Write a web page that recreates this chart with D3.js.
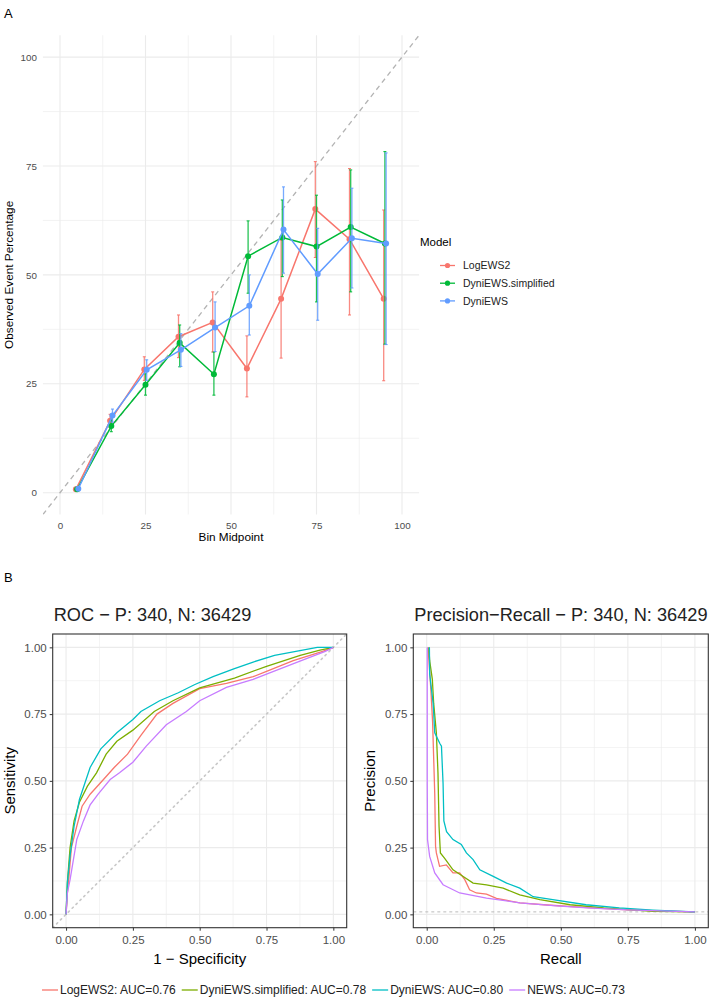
<!DOCTYPE html>
<html lang="en">
<head>
<meta charset="UTF-8" />
<script src="https://d3js.org/d3.v7.min.js"></script>
<title>Calibration and ROC / PR</title>
<style>
  body { margin: 0; background: #fff; }
  svg text { font-family: "Liberation Sans", Arial, sans-serif; }
</style>
</head>
<body>
<svg width="716" height="998"></svg>
<script>
// ---- panel A: calibration ----
const bins = [5, 15, 25, 35, 45, 55, 65, 75, 85, 95];
const calibModels = ["LogEWS2", "DyniEWS.simplified", "DyniEWS"];
const calibColors = ["#F8766D", "#00BA38", "#619CFF"];

const logEWS2Obs = [0.8, 16.5, 28.3, 35.8, 39.1, 28.5, 44.5, 65.1, 58.2, 44.5];
const logEWS2Lo  = [0.4, 15.0, 25.8, 31.0, 32.3, 22.0, 30.9, 54.0, 40.8, 25.7];
const logEWS2Hi  = [1.2, 18.0, 31.2, 40.8, 46.1, 36.0, 58.0, 76.0, 74.4, 64.9];

const simpObs = [0.8, 15.3, 24.8, 34.4, 27.2, 54.3, 58.6, 56.5, 61.0, 57.2];
const simpLo  = [0.4, 14.0, 22.4, 28.9, 22.4, 45.8, 49.6, 43.8, 46.1, 34.1];
const simpHi  = [1.2, 16.7, 27.3, 38.5, 32.3, 62.4, 67.2, 68.3, 74.1, 78.3];

const dyniObs = [0.9, 17.7, 28.2, 32.8, 37.9, 42.9, 60.4, 50.2, 58.4, 57.2];
const dyniLo  = [0.5, 16.2, 25.8, 29.0, 32.4, 36.2, 50.4, 39.6, 47.0, 34.0];
const dyniHi  = [1.3, 19.2, 30.5, 36.5, 43.8, 50.0, 70.2, 60.7, 69.9, 78.0];

const calibTicks = [0, 25, 50, 75, 100];

// ---- panel B: ROC and precision-recall ----
const curveModels = ["LogEWS2", "DyniEWS.simplified", "DyniEWS", "NEWS"];
const curveAUC = [0.76, 0.78, 0.80, 0.73];
const curveColors = ["#F8766D", "#7CAE00", "#00BFC4", "#C77CFF"];

// [1 - specificity, sensitivity]
const rocLogEWS2 = [[0,0],[0.005,0.08],[0.01,0.13],[0.02,0.25],[0.04,0.33],[0.06,0.405],[0.09,0.45],[0.14,0.505],
  [0.18,0.55],[0.23,0.6],[0.28,0.67],[0.34,0.75],[0.4,0.79],[0.5,0.845],[0.6,0.865],[0.7,0.89],[0.75,0.91],
  [0.85,0.95],[0.96,0.985],[1,1]];
const rocSimplified = [[0,0],[0.005,0.12],[0.015,0.25],[0.03,0.35],[0.05,0.42],[0.08,0.48],[0.114,0.53],[0.15,0.6],
  [0.19,0.648],[0.25,0.69],[0.33,0.76],[0.4,0.8],[0.5,0.848],[0.63,0.885],[0.75,0.929],[0.876,0.97],[0.95,0.99],[1,1]];
const rocDyniEWS = [[0,0],[0.005,0.12],[0.015,0.22],[0.03,0.33],[0.05,0.43],[0.07,0.49],[0.09,0.55],[0.13,0.62],
  [0.19,0.68],[0.25,0.73],[0.28,0.76],[0.35,0.8],[0.42,0.83],[0.48,0.86],[0.55,0.89],[0.63,0.92],[0.7,0.945],
  [0.78,0.97],[0.86,0.985],[0.94,1],[1,1]];
const rocNEWS = [[0,0],[0.005,0.08],[0.015,0.13],[0.04,0.28],[0.065,0.35],[0.09,0.41],[0.12,0.45],[0.165,0.505],
  [0.2,0.53],[0.25,0.57],[0.3,0.63],[0.375,0.71],[0.45,0.76],[0.5,0.8],[0.6,0.85],[0.7,0.88],[0.75,0.9],
  [0.88,0.95],[0.97,0.985],[1,1]];

// [recall, precision]
const prLogEWS2 = [[0.005,1],[0.015,0.85],[0.022,0.72],[0.03,0.45],[0.033,0.255],[0.036,0.23],[0.048,0.18],
  [0.073,0.185],[0.098,0.155],[0.123,0.155],[0.142,0.13],[0.16,0.092],[0.185,0.08],[0.223,0.076],[0.26,0.06],
  [0.347,0.043],[0.45,0.035],[0.6,0.025],[0.75,0.017],[0.9,0.012],[1,0.009]];
const prSimplified = [[0.008,1],[0.011,0.95],[0.021,0.88],[0.026,0.79],[0.036,0.68],[0.042,0.53],[0.046,0.33],
  [0.051,0.23],[0.067,0.21],[0.098,0.167],[0.136,0.142],[0.173,0.117],[0.223,0.11],[0.285,0.098],[0.347,0.073],
  [0.422,0.055],[0.535,0.036],[0.66,0.024],[0.843,0.011],[1,0.009]];
const prDyniEWS = [[0.01,1],[0.011,0.9],[0.024,0.79],[0.03,0.68],[0.049,0.64],[0.055,0.63],[0.061,0.49],
  [0.064,0.35],[0.074,0.31],[0.098,0.28],[0.129,0.262],[0.148,0.23],[0.173,0.205],[0.198,0.167],[0.248,0.142],
  [0.298,0.117],[0.347,0.098],[0.397,0.066],[0.47,0.055],[0.594,0.036],[0.718,0.024],[0.843,0.016],[1,0.009]];
const prNEWS = [[0.002,1],[0.002,0.5],[0.003,0.28],[0.011,0.217],[0.03,0.155],[0.061,0.111],[0.123,0.08],
  [0.223,0.061],[0.347,0.043],[0.496,0.031],[0.6,0.024],[0.75,0.017],[0.9,0.012],[1,0.009]];

const prBaseline = 340 / (340 + 36429);
const unitTicks = [0, 0.25, 0.5, 0.75, 1];

const svg = d3.select("svg");
const gridCol = "#ebebeb";
const tickTextCol = "#4d4d4d";

// ================= panel A =================
svg.append("text").attr("x", 4).attr("y", 18).attr("font-size", 13).text("A");

const ax = d3.scaleLinear().domain([-5, 105]).range([42.9, 419.1]);
const ay = d3.scaleLinear().domain([-5, 105]).range([514.5, 35.3]);
svg.append("clipPath").attr("id", "clipA")
  .append("rect").attr("x", 42.9).attr("y", 35.3).attr("width", 419.1 - 42.9).attr("height", 514.5 - 35.3);

const ga = svg.append("g");
const minorA = [12.5, 37.5, 62.5, 87.5];
ga.selectAll(".vminor").data(minorA).join("line")
  .attr("x1", d => ax(d)).attr("x2", d => ax(d)).attr("y1", ay(-5)).attr("y2", ay(105))
  .attr("stroke", gridCol).attr("stroke-width", 0.6);
ga.selectAll(".hminor").data(minorA).join("line")
  .attr("y1", d => ay(d)).attr("y2", d => ay(d)).attr("x1", ax(-5)).attr("x2", ax(105))
  .attr("stroke", gridCol).attr("stroke-width", 0.6);
ga.selectAll(".vmajor").data(calibTicks).join("line")
  .attr("x1", d => ax(d)).attr("x2", d => ax(d)).attr("y1", ay(-5)).attr("y2", ay(105))
  .attr("stroke", gridCol).attr("stroke-width", 1.1);
ga.selectAll(".hmajor").data(calibTicks).join("line")
  .attr("y1", d => ay(d)).attr("y2", d => ay(d)).attr("x1", ax(-5)).attr("x2", ax(105))
  .attr("stroke", gridCol).attr("stroke-width", 1.1);

// axes (text only, theme_minimal)
const axA = svg.append("g").attr("transform", `translate(0,${ay(-5)})`)
  .call(d3.axisBottom(ax).tickValues(calibTicks).tickSize(0).tickPadding(8));
const ayA = svg.append("g").attr("transform", `translate(${ax(-5)},0)`)
  .call(d3.axisLeft(ay).tickValues(calibTicks).tickSize(0).tickPadding(6));
[axA, ayA].forEach(g => {
  g.select(".domain").remove();
  g.selectAll("text").attr("font-size", 9.8).attr("fill", tickTextCol)
    .attr("font-family", "Liberation Sans, Arial, sans-serif");
});

svg.append("text").attr("x", (ax(-5) + ax(105)) / 2).attr("y", 541).attr("text-anchor", "middle")
  .attr("font-size", 11.8).text("Bin Midpoint");
svg.append("text").attr("transform", `translate(13,${(ay(-5) + ay(105)) / 2}) rotate(-90)`)
  .attr("text-anchor", "middle").attr("font-size", 11.8).text("Observed Event Percentage");

// identity line
const plotA = svg.append("g").attr("clip-path", "url(#clipA)");
plotA.append("line").attr("x1", ax(-5)).attr("y1", ay(-5)).attr("x2", ax(105)).attr("y2", ay(105))
  .attr("stroke", "#b3b3b3").attr("stroke-width", 1.3).attr("stroke-dasharray", "5,4");

const calibSeries = [
  { obs: logEWS2Obs, lo: logEWS2Lo, hi: logEWS2Hi },
  { obs: simpObs, lo: simpLo, hi: simpHi },
  { obs: dyniObs, lo: dyniLo, hi: dyniHi }
];
const dodge = [-0.35, 0, 0.35];

calibSeries.forEach((s, k) => {
  const pts = bins.map((b, i) => ({ x: b + dodge[k], y: s.obs[i], lo: s.lo[i], hi: s.hi[i] }));
  const g = plotA.append("g");
  g.selectAll("line.err").data(pts).join("line")
    .attr("x1", d => ax(d.x)).attr("x2", d => ax(d.x))
    .attr("y1", d => ay(d.lo)).attr("y2", d => ay(d.hi))
    .attr("stroke", calibColors[k]).attr("stroke-width", 1.3).attr("opacity", 0.85);
  g.selectAll("line.cap").data(pts.flatMap(d => [d.lo, d.hi].map(v => ({ x: d.x, v }))))
    .join("line")
    .attr("x1", d => ax(d.x) - 1.5).attr("x2", d => ax(d.x) + 1.5)
    .attr("y1", d => ay(d.v)).attr("y2", d => ay(d.v))
    .attr("stroke", calibColors[k]).attr("stroke-width", 1);
  g.append("path").datum(pts)
    .attr("d", d3.line().x(d => ax(d.x)).y(d => ay(d.y)))
    .attr("fill", "none").attr("stroke", calibColors[k]).attr("stroke-width", 1.5);
  g.selectAll("circle").data(pts).join("circle")
    .attr("cx", d => ax(d.x)).attr("cy", d => ay(d.y)).attr("r", 3)
    .attr("fill", calibColors[k]);
});

// legend A
const legA = svg.append("g").attr("transform", "translate(420,246)");
legA.append("text").attr("x", 0).attr("y", 0).attr("font-size", 11.5).text("Model");
calibModels.forEach((m, k) => {
  const y = 19.5 + k * 17.7;
  legA.append("line").attr("x1", 20).attr("x2", 35).attr("y1", y).attr("y2", y)
    .attr("stroke", calibColors[k]).attr("stroke-width", 1.3);
  legA.append("circle").attr("cx", 27.5).attr("cy", y).attr("r", 2.6).attr("fill", calibColors[k]);
  legA.append("text").attr("x", 43).attr("y", y + 3.7).attr("font-size", 10.5).attr("fill", "#222").text(m);
});

// ================= panel B =================
svg.append("text").attr("x", 4).attr("y", 582).attr("font-size", 13).text("B");

function drawPanel(left, right, xLab, yLab, title, curves, refLine) {
  const top = 634, bottom = 927.7;
  const x = d3.scaleLinear().domain([-0.05, 1.05]).range([left, right]);
  const y = d3.scaleLinear().domain([-0.05, 1.05]).range([bottom, top]);
  const id = "clip" + Math.round(left);
  svg.append("clipPath").attr("id", id).append("rect")
    .attr("x", left).attr("y", top).attr("width", right - left).attr("height", bottom - top);
  const g = svg.append("g");
  const minor = [0.125, 0.375, 0.625, 0.875];
  g.selectAll(".vmin").data(minor).join("line")
    .attr("x1", d => x(d)).attr("x2", d => x(d)).attr("y1", top).attr("y2", bottom)
    .attr("stroke", gridCol).attr("stroke-width", 0.6);
  g.selectAll(".hmin").data(minor).join("line")
    .attr("y1", d => y(d)).attr("y2", d => y(d)).attr("x1", left).attr("x2", right)
    .attr("stroke", gridCol).attr("stroke-width", 0.6);
  g.selectAll(".vmaj").data(unitTicks).join("line")
    .attr("x1", d => x(d)).attr("x2", d => x(d)).attr("y1", top).attr("y2", bottom)
    .attr("stroke", gridCol).attr("stroke-width", 1.1);
  g.selectAll(".hmaj").data(unitTicks).join("line")
    .attr("y1", d => y(d)).attr("y2", d => y(d)).attr("x1", left).attr("x2", right)
    .attr("stroke", gridCol).attr("stroke-width", 1.1);

  const p = svg.append("g").attr("clip-path", `url(#${id})`);
  refLine(p, x, y);
  curves.forEach((c, k) => {
    p.append("path").datum(c)
      .attr("d", d3.line().x(d => x(d[0])).y(d => y(d[1])))
      .attr("fill", "none").attr("stroke", curveColors[k]).attr("stroke-width", 1.3);
  });

  svg.append("rect").attr("x", left).attr("y", top).attr("width", right - left).attr("height", bottom - top)
    .attr("fill", "none").attr("stroke", "#333").attr("stroke-width", 1.1);

  const fmt = d3.format(".2f");
  const gx = svg.append("g").attr("transform", `translate(0,${bottom})`)
    .call(d3.axisBottom(x).tickValues(unitTicks).tickFormat(fmt).tickSize(3).tickPadding(3));
  const gy = svg.append("g").attr("transform", `translate(${left},0)`)
    .call(d3.axisLeft(y).tickValues(unitTicks).tickFormat(fmt).tickSize(3).tickPadding(3));
  [gx, gy].forEach(a => {
    a.select(".domain").remove();
    a.selectAll("line").attr("stroke", "#333");
    a.selectAll("text").attr("font-size", 11.5).attr("fill", tickTextCol)
      .attr("font-family", "Liberation Sans, Arial, sans-serif");
  });
  gx.selectAll("text").attr("dy", "0.9em");

  svg.append("text").attr("x", (left + right) / 2).attr("y", 964).attr("text-anchor", "middle")
    .attr("font-size", 15).text(xLab);
  svg.append("text").attr("transform", `translate(${left - 38},${(top + bottom) / 2}) rotate(-90)`)
    .attr("text-anchor", "middle").attr("font-size", 15).text(yLab);
  svg.append("text").attr("x", left + 1).attr("y", 621).attr("font-size", 18.2).attr("fill", "#222").text(title);
}

drawPanel(52.7, 346.7, "1 \u2212 Specificity", "Sensitivity", "ROC \u2212 P: 340, N: 36429",
  [rocLogEWS2, rocSimplified, rocDyniEWS, rocNEWS],
  (p, x, y) => p.append("line").attr("x1", x(-0.05)).attr("y1", y(-0.05)).attr("x2", x(1.05)).attr("y2", y(1.05))
    .attr("stroke", "#c8c8c8").attr("stroke-width", 1.6).attr("stroke-dasharray", "1.5,4").attr("stroke-linecap", "round"));

drawPanel(413.3, 708.3, "Recall", "Precision", "Precision\u2212Recall \u2212 P: 340, N: 36429",
  [prLogEWS2, prSimplified, prDyniEWS, prNEWS],
  (p, x, y) => p.append("line").attr("x1", x(-0.05)).attr("y1", y(prBaseline)).attr("x2", x(1.05)).attr("y2", y(prBaseline))
    .attr("stroke", "#bbb").attr("stroke-width", 1).attr("stroke-dasharray", "3,3"));

// legend B
const legB = svg.append("g").attr("transform", "translate(42,990)");
let cx = 0;
curveModels.forEach((m, k) => {
  legB.append("line").attr("x1", cx).attr("x2", cx + 16).attr("y1", 0).attr("y2", 0)
    .attr("stroke", curveColors[k]).attr("stroke-width", 1.3);
  const t = legB.append("text").attr("x", cx + 18).attr("y", 4.3).attr("font-size", 12).attr("fill", "#222")
    .text(`${m}: AUC=${curveAUC[k].toFixed(2)}`);
  cx += 18 + t.node().getComputedTextLength() + 6;
});
</script>
</body>
</html>
